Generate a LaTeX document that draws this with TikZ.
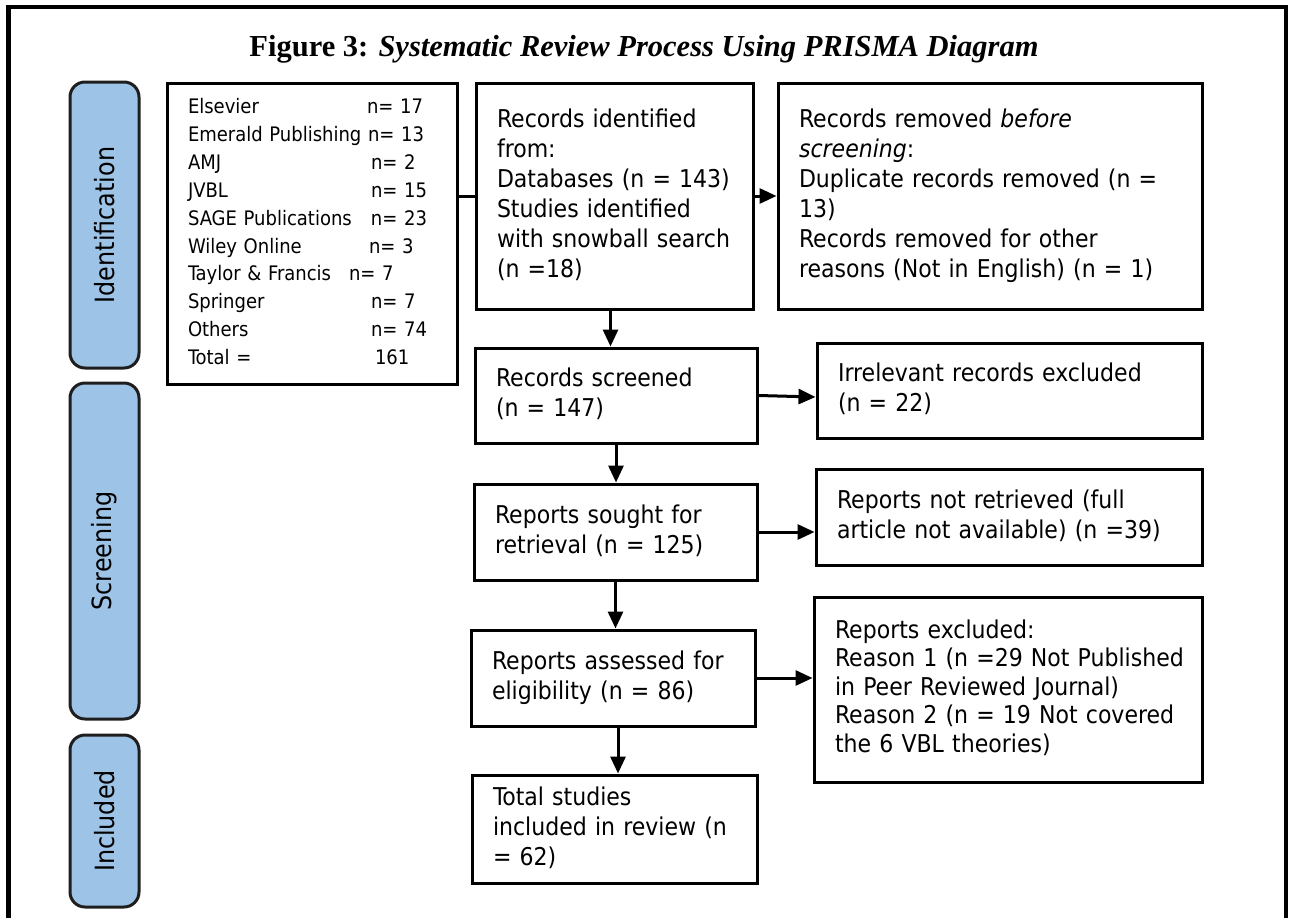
\documentclass[tikz,border=0pt]{standalone}
\usepackage{fontspec}
\setmainfont{Liberation Serif}
\newfontfamily\bodyfont{DejaVu Sans Condensed}
\usetikzlibrary{arrows.meta}
\definecolor{labblue}{HTML}{9DC3E6}
\definecolor{labedge}{HTML}{1E1E1E}
\newcommand\boxlines[1]{\begin{tabular}{@{}l@{}}#1\end{tabular}}
\begin{document}
\begin{tikzpicture}[x=1pt,y=-1pt,
  box/.style={draw, line width=3pt, rectangle, inner xsep=21pt, inner ysep=0pt, align=left,
    font=\bodyfont\fontsize{24.5}{30}\selectfont},
  lab/.style={draw=labedge, fill=labblue, line width=3pt, rounded corners=15pt, rotate=90,
    font=\bodyfont\fontsize{26.5}{30}\selectfont, inner sep=0pt},
  arr/.style={line width=3pt, -{Triangle[length=17pt,width=15pt]}},
  conn/.style={line width=3pt}]
\useasboundingbox (0,0) rectangle (1289,918);
\draw[line width=4.5pt, line join=miter] (8.5,918) -- (8.5,7) -- (1286,7) -- (1286,918);

\node[anchor=base, font=\fontsize{30.5}{36}\selectfont] (title) at (644,56)
  {\textbf{Figure 3:} \textbf{\textit{Systematic Review Process Using PRISMA Diagram}}};

\node[lab, minimum width=286pt, minimum height=69pt] (lid) at (104.5,225) {Identification};
\node[lab, minimum width=336pt, minimum height=69pt] (lsc) at (104.5,551) {Screening};
\node[lab, minimum width=172pt, minimum height=69pt] (lin) at (104.5,821) {Included};

\node[box, text width=248pt, minimum height=301pt, font=\bodyfont\fontsize{20}{27.9}\selectfont] (src) at (312,233.5)
  {\boxlines{\makebox[179pt][l]{Elsevier}n= 17\\
   Emerald Publishing n= 13\\
   \makebox[183pt][l]{AMJ}n= 2\\
   \makebox[183pt][l]{JVBL}n= 15\\
   \makebox[183pt][l]{SAGE Publications}n= 23\\
   \makebox[181pt][l]{Wiley Online}n= 3\\
   \makebox[161pt][l]{Taylor \& Francis}n= 7\\
   \makebox[183pt][l]{Springer}n= 7\\
   \makebox[183pt][l]{Others}n= 74\\
   \makebox[187pt][l]{Total =}161}};

\node[box, text width=235pt, minimum height=226pt] (rid) at (614.5,196)
  {\boxlines{Records identified\\ from:\\ Databases (n = 143)\\ Studies identified\\ with snowball search\\ (n =18)}};
\node[box, text width=382pt, minimum height=226pt] (rem) at (990,196)
  {\boxlines{Records removed \textit{before}\\ \textit{screening}:\\ Duplicate records removed (n =\\ 13)\\ Records removed for other\\ reasons (Not in English) (n = 1)}};
\node[box, text width=240pt, minimum height=95pt] (scr) at (616,395.5)
  {\boxlines{Records screened\\ (n = 147)}};
\node[box, text width=343pt, minimum height=95pt] (irr) at (1009.5,390.5)
  {\boxlines{Irrelevant records excluded\\ (n = 22)}};
\node[box, text width=241pt, minimum height=96pt] (sou) at (615.5,532)
  {\boxlines{Reports sought for\\ retrieval (n = 125)}};
\node[box, text width=344pt, minimum height=96pt] (nrt) at (1009,517)
  {\boxlines{Reports not retrieved (full\\ article not available) (n =39)}};
\node[box, text width=242pt, minimum height=96pt] (ass) at (613,678)
  {\boxlines{Reports assessed for\\ eligibility (n = 86)}};
\node[box, text width=346pt, minimum height=185pt, font=\bodyfont\fontsize{24.5}{28.5}\selectfont] (exc) at (1008,689.5)
  {\boxlines{Reports excluded:\\ Reason 1 (n =29 Not Published\\ in Peer Reviewed Journal)\\ Reason 2 (n = 19 Not covered\\ the 6 VBL theories)}};
\node[box, text width=243pt, minimum height=108pt] (tot) at (614.5,829)
  {\boxlines{Total studies\\ included in review (n\\ = 62)}};

\draw[conn] (src.east |- rid.west) -- (rid.west);
\draw[arr] (rid.east) -- (rem.west);
\coordinate (p1) at ([xshift=-4pt]rid.south);
\draw[arr] (p1) -- (p1 |- scr.north);
\draw[arr] (scr.east) -- ([yshift=-6.5pt]irr.west);
\draw[arr] (scr.south) -- (scr.south |- sou.north);
\draw[arr] (sou.east) -- (sou.east -| nrt.west);
\draw[arr] (sou.south) -- (sou.south |- ass.north);
\draw[arr] (ass.east) -- (ass.east -| exc.west);
\coordinate (p2) at ([xshift=5pt]ass.south);
\draw[arr] (p2) -- (p2 |- tot.north);
\end{tikzpicture}
\end{document}
